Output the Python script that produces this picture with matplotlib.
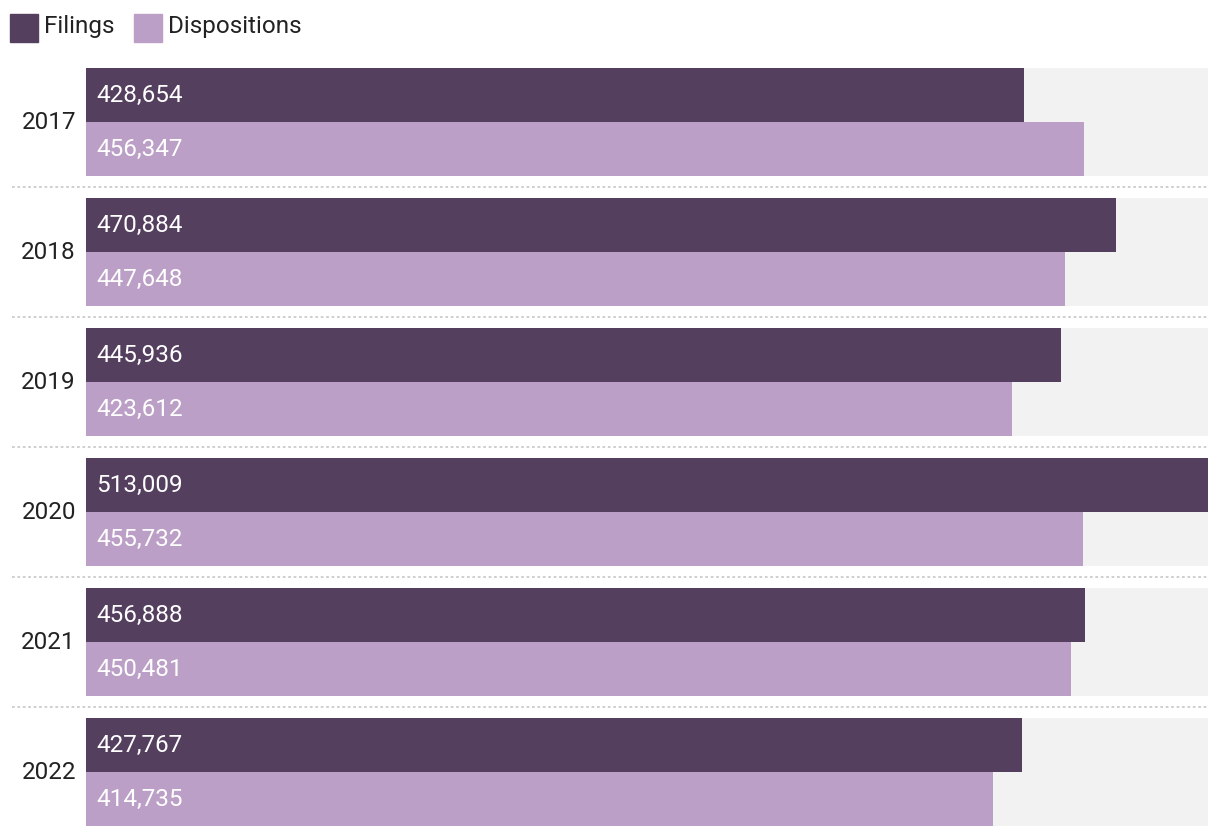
import matplotlib.pyplot as plt
from matplotlib.patches import Rectangle

years = ["2017", "2018", "2019", "2020", "2021", "2022"]
filings = [428654, 470884, 445936, 513009, 456888, 427767]
dispositions = [456347, 447648, 423612, 455732, 450481, 414735]

dark = "#553f5f"
light = "#bb9fc6"
plt.rcParams["font.family"] = ["Roboto", "DejaVu Sans"]
fs = 17.5

W, H = 1220, 838
fig = plt.figure(figsize=(W / 100, H / 100), dpi=100)
ax = fig.add_axes([86 / W, 12 / H, (1208 - 86) / W, (826 - 68) / H])

h = 54 / 130
xmax = max(filings + dispositions)
for i, (f, d) in enumerate(zip(filings, dispositions)):
    ax.barh(i - h / 2, xmax, height=h, color="#f2f2f2", linewidth=0)
    ax.barh(i + h / 2, xmax, height=h, color="#f2f2f2", linewidth=0)
    ax.barh(i - h / 2, f, height=h, color=dark, linewidth=0)
    ax.barh(i + h / 2, d, height=h, color=light, linewidth=0)
    ax.text(xmax * 10 / 1122, i - h / 2, f"{f:,}", color="white", fontsize=fs, va="center", ha="left")
    ax.text(xmax * 10 / 1122, i + h / 2, f"{d:,}", color="white", fontsize=fs, va="center", ha="left")
    ax.text(-10 / 1122, i, years[i], transform=ax.get_yaxis_transform(), fontsize=fs,
            va="center", ha="right", color="#222222")
    if i < len(years) - 1:
        ax.plot([-74 / 1122, 1], [i + 0.5, i + 0.5], transform=ax.get_yaxis_transform(),
                color="#cccccc", linestyle=(0, (1.5, 1.5)), linewidth=1.3, clip_on=False)

ax.set_xlim(0, xmax)
ax.set_ylim(len(years) - 1 + h, -h)
ax.axis("off")

# legend
fig.patches.append(Rectangle((10 / W, 1 - 42 / H), 28 / W, 28 / H, color=dark, transform=fig.transFigure))
fig.text(44 / W, 1 - 26 / H, "Filings", fontsize=fs, va="center", color="#222222")
fig.patches.append(Rectangle((134 / W, 1 - 42 / H), 28 / W, 28 / H, color=light, transform=fig.transFigure))
fig.text(168 / W, 1 - 26 / H, "Dispositions", fontsize=fs, va="center", color="#222222")

fig.savefig("out.png", dpi=100)
